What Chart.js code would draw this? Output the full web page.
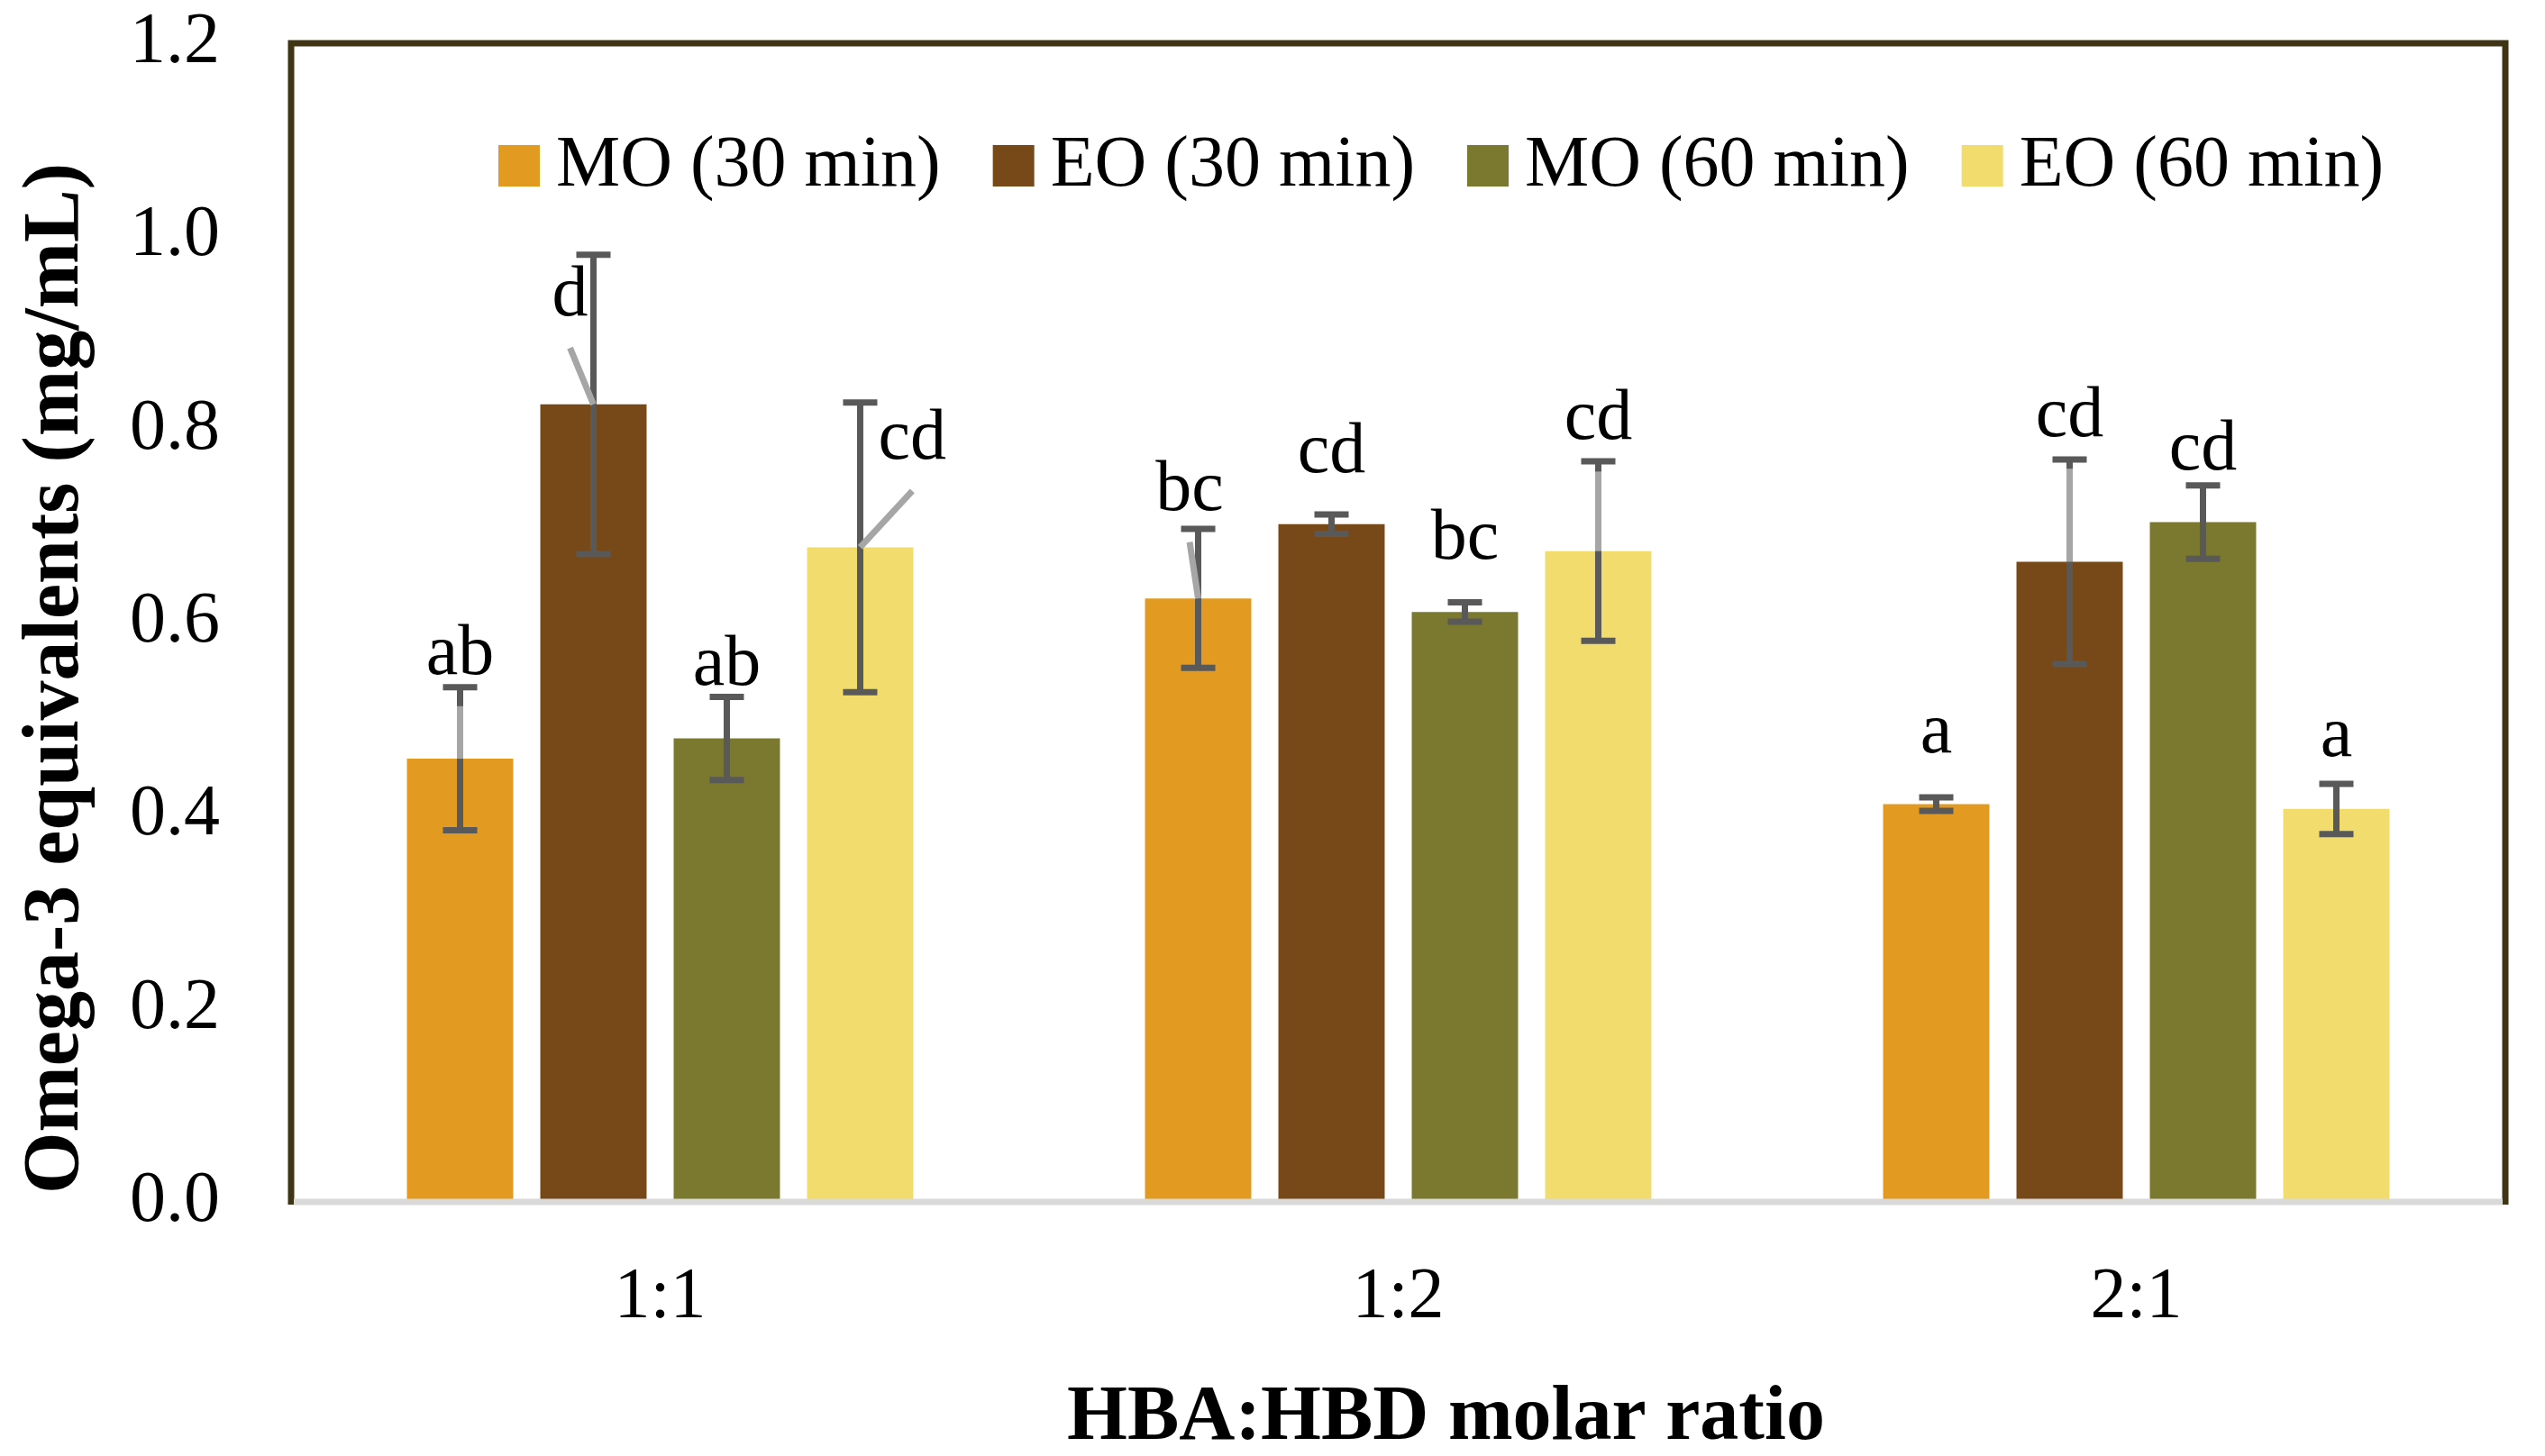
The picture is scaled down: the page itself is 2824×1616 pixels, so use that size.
<!DOCTYPE html>
<html>
<head>
<meta charset="utf-8">
<title>Omega-3 equivalents by HBA:HBD molar ratio</title>
<script src="https://cdn.jsdelivr.net/npm/chart.js@4.4.1/dist/chart.umd.min.js"></script>
<style>
    html, body { margin: 0; padding: 0; background: #ffffff; }
    #wrap { width: 2824px; height: 1616px; }
</style>
</head>
<body>
<div id="wrap"><canvas id="omegaChart" width="2824" height="1616"></canvas></div>
<script>
// Categories (x axis)
const ratios = ['1:1', '1:2', '2:1'];

// Series names
const seriesNames = ['MO (30 min)', 'EO (30 min)', 'MO (60 min)', 'EO (60 min)'];

// Mean omega-3 equivalents (mg/mL)
const mo30 = [0.459, 0.625, 0.412];
const eo30 = [0.826, 0.702, 0.663];
const mo60 = [0.480, 0.611, 0.704];
const eo60 = [0.678, 0.674, 0.407];

// Error bars (+/-)
const mo30Err = [0.074, 0.072, 0.007];
const eo30Err = [0.155, 0.010, 0.106];
const mo60Err = [0.043, 0.010, 0.038];
const eo60Err = [0.150, 0.093, 0.026];

// Significance letters
const mo30Letters = ['ab', 'bc', 'a'];
const eo30Letters = ['d', 'cd', 'cd'];
const mo60Letters = ['ab', 'bc', 'cd'];
const eo60Letters = ['cd', 'cd', 'a'];

// Value at which each letter's baseline sits
const mo30LetterAt = [0.547, 0.717, 0.466];
const eo30LetterAt = [0.918, 0.756, 0.793];
const mo60LetterAt = [0.536, 0.666, 0.759];
const eo60LetterAt = [0.770, 0.790, 0.462];

// Y axis ticks
const yMin = 0;
const yMax = 1.2;
const yStep = 0.2;

// Look of the figure
const colors = ['#E39A21', '#774818', '#7A792F', '#F1DC6D'];
// sideways nudge of a letter, in bar widths, and whether Excel drew a leader line
const letterShift = [[0, -0.08, 0], [-0.22, 0, 0], [0, 0, 0], [0.49, 0, 0]];
const leaderLine = [[true, true, false], [true, false, true], [false, false, false], [true, true, false]];

const serif = '"Liberation Serif", "Times New Roman", serif';

const datasets = [
    { values: mo30, err: mo30Err, letters: mo30Letters, letterAt: mo30LetterAt },
    { values: eo30, err: eo30Err, letters: eo30Letters, letterAt: eo30LetterAt },
    { values: mo60, err: mo60Err, letters: mo60Letters, letterAt: mo60LetterAt },
    { values: eo60, err: eo60Err, letters: eo60Letters, letterAt: eo60LetterAt }
].map((s, i) => ({
    label: seriesNames[i],
    data: s.values,
    err: s.err,
    letters: s.letters,
    letterAt: s.letterAt,
    backgroundColor: colors[i],
    borderWidth: 0,
    categoryPercentage: 0.7228,
    barPercentage: 0.797
}));

// Error bars, letters, leader lines, frame, legend and axis titles
const decorations = {
    id: 'decorations',
    afterDatasetsDraw(chart) {
        const { ctx, chartArea: a, scales: { y } } = chart;
        ctx.save();

        // error bars
        ctx.strokeStyle = '#595959';
        ctx.lineWidth = 7;
        ctx.lineCap = 'butt';
        chart.data.datasets.forEach((ds, i) => {
            chart.getDatasetMeta(i).data.forEach((bar, j) => {
                const hi = y.getPixelForValue(ds.data[j] + ds.err[j]);
                const lo = y.getPixelForValue(ds.data[j] - ds.err[j]);
                ctx.beginPath();
                ctx.moveTo(bar.x, hi); ctx.lineTo(bar.x, lo);
                ctx.moveTo(bar.x - 19, hi); ctx.lineTo(bar.x + 19, hi);
                ctx.moveTo(bar.x - 19, lo); ctx.lineTo(bar.x + 19, lo);
                ctx.stroke();
            });
        });

        // letters and their leader lines
        ctx.font = '80px ' + serif;
        ctx.textAlign = 'center';
        ctx.textBaseline = 'alphabetic';
        chart.data.datasets.forEach((ds, i) => {
            chart.getDatasetMeta(i).data.forEach((bar, j) => {
                const lx = bar.x + letterShift[i][j] * bar.width;
                const ly = y.getPixelForValue(ds.letterAt[j]);
                if (leaderLine[i][j]) {
                    ctx.strokeStyle = '#A6A6A6';
                    ctx.beginPath();
                    ctx.moveTo(bar.x, bar.y);
                    ctx.lineTo(lx, ly + 36);
                    ctx.stroke();
                }
                ctx.fillStyle = '#000000';
                ctx.fillText(ds.letters[j], lx, ly);
            });
        });

        // plot area frame
        ctx.lineJoin = 'miter';
        ctx.strokeStyle = '#3F3413';
        ctx.beginPath();
        ctx.moveTo(a.left, a.bottom + 3);
        ctx.lineTo(a.left, a.top);
        ctx.lineTo(a.right, a.top);
        ctx.lineTo(a.right, a.bottom + 3);
        ctx.stroke();
        ctx.strokeStyle = '#D9D9D9';
        ctx.beginPath();
        ctx.moveTo(a.left + 3, a.bottom);
        ctx.lineTo(a.right - 3, a.bottom);
        ctx.stroke();

        // legend inside the plot area
        ctx.font = '80px ' + serif;
        ctx.textAlign = 'left';
        let x = a.left + 230;
        const boxTop = a.top + 113;
        chart.data.datasets.forEach(ds => {
            ctx.fillStyle = ds.backgroundColor;
            ctx.fillRect(x, boxTop, 46, 46);
            ctx.fillStyle = '#000000';
            ctx.fillText(ds.label, x + 64, boxTop + 45);
            x += 64 + ctx.measureText(ds.label).width + 58;
        });

        // axis titles
        ctx.textAlign = 'center';
        ctx.font = 'bold 86px ' + serif;
        ctx.fillText('HBA:HBD molar ratio', (a.left + a.right) / 2 + 53, 1597);
        ctx.font = 'bold 88px ' + serif;
        ctx.translate(86, 753);
        ctx.rotate(-Math.PI / 2);
        ctx.fillText('Omega-3 equivalents (mg/mL)', 0, 0);

        ctx.restore();
    }
};

new Chart(document.getElementById('omegaChart'), {
    type: 'bar',
    data: { labels: ratios, datasets: datasets },
    options: {
        responsive: false,
        devicePixelRatio: 1,
        animation: false,
        layout: { padding: { left: 0, top: 48, right: 44, bottom: 0 } },
        plugins: {
            legend: { display: false },
            tooltip: { enabled: false }
        },
        scales: {
            x: {
                grid: { display: false, drawTicks: false },
                border: { display: false },
                ticks: { color: '#000000', font: { family: serif, size: 80 }, padding: 59 },
                afterFit: scale => {
                    scale.height = 282;
                    scale.paddingLeft = 0;
                    scale.paddingRight = 0;
                }
            },
            y: {
                min: yMin,
                max: yMax,
                grid: { display: false, drawTicks: false },
                border: { display: false },
                ticks: {
                    stepSize: yStep,
                    color: '#000000',
                    font: { family: serif, size: 80 },
                    padding: 79,
                    callback: v => Number(v).toFixed(1)
                },
                afterFit: scale => {
                    scale.width = 323;
                    scale.paddingTop = 0;
                    scale.paddingBottom = 0;
                }
            }
        }
    },
    plugins: [decorations]
});
</script>
</body>
</html>
